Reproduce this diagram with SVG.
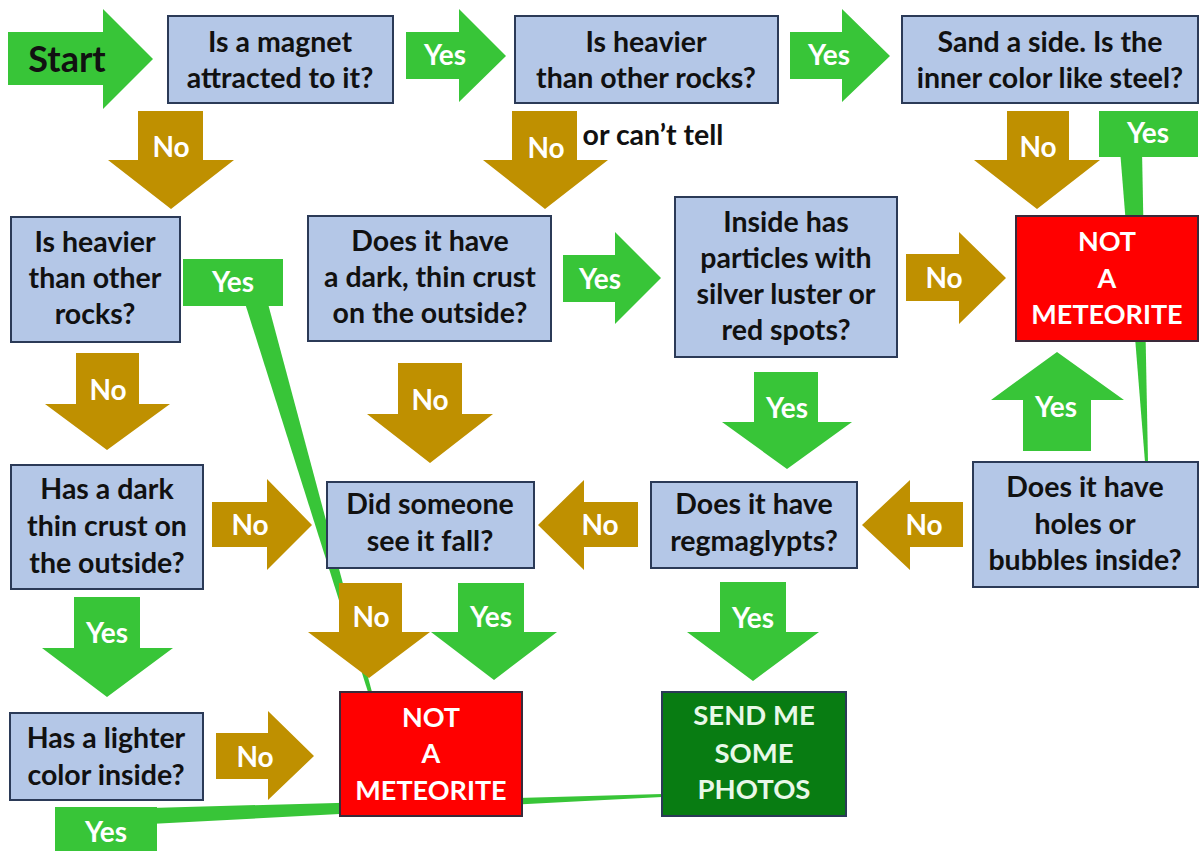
<svg xmlns="http://www.w3.org/2000/svg" width="1200" height="851" viewBox="0 0 1200 851">
<style>
.box{fill:#b4c7e7;stroke:#2b3a57;stroke-width:2}
.red{fill:#ff0000;stroke:#3a2a3a;stroke-width:2}
.dg{fill:#087c12;stroke:#2b3a57;stroke-width:2}
.g{fill:#38c538}
.o{fill:#bf9000}
.t{font-family:Lato,"Liberation Sans",sans-serif;font-weight:bold;font-size:28.5px;text-anchor:middle;fill:#111}
.l{font-family:Lato,"Liberation Sans",sans-serif;font-weight:bold;font-size:28px;text-anchor:middle;fill:#ffffff}
.w{fill:#ffffff;font-size:27px}
.lw{fill:#e8f8e8;font-size:27.5px}
</style>
<rect width="1200" height="851" fill="#ffffff"/>
<g id="connectors">
  <polygon class="g" points="244,300 267,300 372,692 368,692"/>
  <polygon class="g" points="1120,150 1142,150 1148,462 1145,462"/>
  <polygon class="g" points="150,808 150,824 662,797 662,794"/>
  <g id="callout-yes-left"><rect class="g" x="183" y="259" width="100" height="47"/><text class="l" x="233" y="292">Yes</text></g>
  <g id="callout-yes-topright"><rect class="g" x="1099" y="111" width="99" height="46"/><text class="l" x="1148" y="143">Yes</text></g>
  <g id="callout-yes-bottom"><rect class="g" x="55" y="807" width="102" height="50"/><text class="l" x="106" y="842">Yes</text></g>

  <g id="start"><polygon class="g" points="8,32 103,32 103,9 153,59 103,109 103,85 8,85"/><text class="t" style="font-size:36px" x="67" y="72">Start</text></g>
  <polygon class="g" points="406,32 459,32 459,9 506,56 459,102 459,79 406,79"/><text class="l" x="445" y="65">Yes</text>
  <polygon class="g" points="790,32 842,32 842,9 890,56 842,102 842,79 790,79"/><text class="l" x="829" y="65">Yes</text>
  <polygon class="g" points="563,255 615,255 615,232 661,278 615,324 615,302 563,302"/><text class="l" x="600" y="289">Yes</text>
  <polygon class="o" points="906,254 959,254 959,232 1006,278 959,324 959,301 906,301"/><text class="l" x="944" y="288">No</text>
  <polygon class="o" points="212,502 267,502 267,479 312,525 267,570 267,547 212,547"/><text class="l" x="250" y="535">No</text>
  <polygon class="o" points="216,733 268,733 268,711 314,756 268,800 268,779 216,779"/><text class="l" x="255" y="767">No</text>
  <polygon class="o" points="638,502 584,502 584,480 538,525 584,570 584,547 638,547"/><text class="l" x="600" y="535">No</text>
  <polygon class="o" points="963,502 910,502 910,480 862,525 910,570 910,547 963,547"/><text class="l" x="924" y="535">No</text>
  <polygon class="o" points="138,111 203,111 203,160 234,160 171,209 108,160 138,160"/><text class="l" x="171" y="157">No</text>
  <polygon class="o" points="512,111 577,111 577,160 608,160 545,209 483,160 512,160"/><text class="l" x="546" y="158">No</text>
  <text class="t" x="653" y="145">or can’t tell</text>
  <polygon class="o" points="1007,111 1069,111 1069,160 1100,160 1037,209 974,160 1007,160"/><text class="l" x="1038" y="157">No</text>
  <polygon class="o" points="76,353 139,353 139,404 170,404 107,450 45,404 76,404"/><text class="l" x="108" y="400">No</text>
  <polygon class="o" points="398,363 462,363 462,414 493,414 430,463 367,414 398,414"/><text class="l" x="430" y="410">No</text>
  <polygon class="g" points="754,372 818,372 818,422 852,422 787,469 722,422 754,422"/><text class="l" x="787" y="418">Yes</text>
  <polygon class="g" points="74,597 140,597 140,648 173,648 107,697 42,648 74,648"/><text class="l" x="107" y="643">Yes</text>
  <polygon class="o" points="339,583 402,583 402,632 430,632 369,678 308,632 339,632"/><text class="l" x="371" y="627">No</text>
  <polygon class="g" points="458,583 524,583 524,632 557,632 494,680 431,632 458,632"/><text class="l" x="491" y="627">Yes</text>
  <polygon class="g" points="720,582 786,582 786,632 819,632 753,681 687,632 720,632"/><text class="l" x="753" y="628">Yes</text>
  <polygon class="g" points="1023,451 1091,451 1091,400 1124,400 1057,352 991,400 1023,400"/><text class="l" x="1056" y="417">Yes</text>
</g>

<g id="n-magnet"><rect class="box" x="168" y="16" width="225" height="87"/><text class="t" x="280" y="52">Is a magnet</text><text class="t" x="280" y="88">attracted to it?</text></g>
<g id="n-heavier-top"><rect class="box" x="515" y="16" width="263" height="87"/><text class="t" x="646" y="52">Is heavier</text><text class="t" x="646" y="88">than other rocks?</text></g>
<g id="n-sand"><rect class="box" x="902" y="16" width="296" height="87"/><text class="t" x="1050" y="52">Sand a side. Is the</text><text class="t" x="1050" y="88">inner color like steel?</text></g>
<g id="n-heavier-left"><rect class="box" x="11" y="217" width="169" height="125"/><text class="t" x="95" y="252">Is heavier</text><text class="t" x="95" y="288">than other</text><text class="t" x="95" y="324">rocks?</text></g>
<g id="n-crust1"><rect class="box" x="308" y="216" width="243" height="125"/><text class="t" x="430" y="251">Does it have</text><text class="t" x="430" y="287">a dark, thin crust</text><text class="t" x="430" y="323">on the outside?</text></g>
<g id="n-particles"><rect class="box" x="675" y="197" width="222" height="160"/><text class="t" x="786" y="232">Inside has</text><text class="t" x="786" y="268">particles with</text><text class="t" x="786" y="304">silver luster or</text><text class="t" x="786" y="340">red spots?</text></g>
<g id="n-not1"><rect class="red" x="1016" y="216" width="182" height="125"/><text class="t w" x="1107" y="251">NOT</text><text class="t w" x="1107" y="288">A</text><text class="t w" x="1107" y="324">METEORITE</text></g>
<g id="n-crust2"><rect class="box" x="11" y="465" width="192" height="124"/><text class="t" x="107" y="499">Has a dark</text><text class="t" x="107" y="536">thin crust on</text><text class="t" x="107" y="573">the outside?</text></g>
<g id="n-fall"><rect class="box" x="327" y="482" width="207" height="86"/><text class="t" x="430" y="514">Did someone</text><text class="t" x="430" y="551">see it fall?</text></g>
<g id="n-regma"><rect class="box" x="651" y="482" width="206" height="86"/><text class="t" x="754" y="514">Does it have</text><text class="t" x="754" y="551">regmaglypts?</text></g>
<g id="n-holes"><rect class="box" x="973" y="462" width="225" height="125"/><text class="t" x="1085" y="497">Does it have</text><text class="t" x="1085" y="534">holes or</text><text class="t" x="1085" y="570">bubbles inside?</text></g>
<g id="n-lighter"><rect class="box" x="10" y="713" width="193" height="87"/><text class="t" x="106" y="748">Has a lighter</text><text class="t" x="106" y="785">color inside?</text></g>
<g id="n-not2"><rect class="red" x="340" y="692" width="182" height="124"/><text class="t w" x="431" y="727">NOT</text><text class="t w" x="431" y="763">A</text><text class="t w" x="431" y="800">METEORITE</text></g>
<g id="n-send"><rect class="dg" x="662" y="692" width="184" height="124"/><text class="t lw" x="754" y="725">SEND ME</text><text class="t lw" x="754" y="763">SOME</text><text class="t lw" x="754" y="799">PHOTOS</text></g>
</svg>
